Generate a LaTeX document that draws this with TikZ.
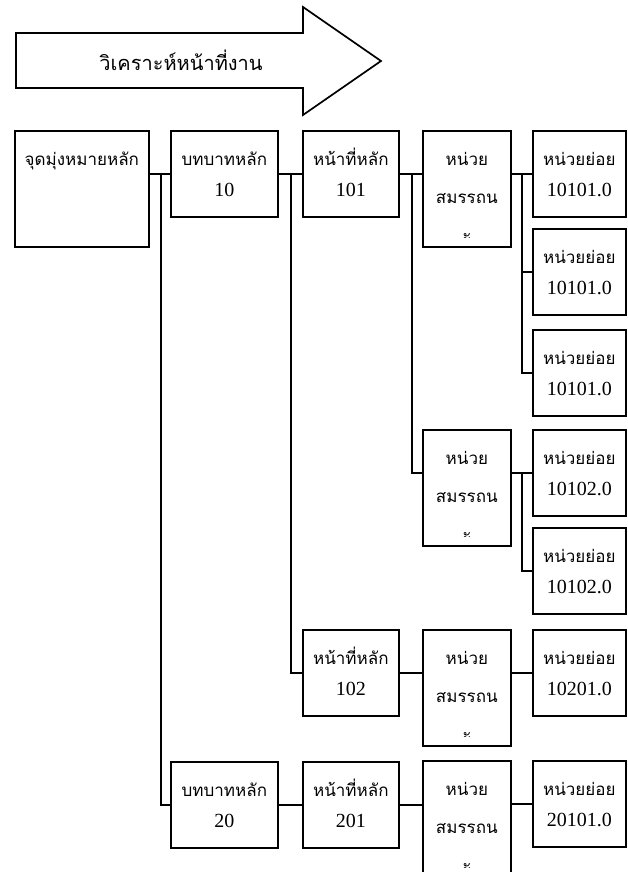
\documentclass[tikz,border=0pt]{standalone}
\usepackage{fontspec}
\setmainfont{Liberation Serif}
\newfontfamily\thaifont[Script=Thai]{Loma}
\usetikzlibrary{calc}
\newcommand{\tw}[1]{{\thaifont\fontsize{17}{31}\selectfont #1}}
\tikzset{box/.style={draw,anchor=north west,inner sep=0pt,align=center,text height=35pt,text depth=51pt,font=\fontsize{20}{31}\selectfont},
tallbox/.style={box,text depth=81pt}}

\begin{document}
\begin{tikzpicture}[x=1pt,y=-1pt,line width=1.7pt]
\clip(0,0)rectangle(627,872);
\draw(16,33)--(303,33)--(303,7)--(381,61)--(303,115)--(303,88)--(16,88)--cycle;
\node(title)at(181,60){\thaifont\fontsize{20}{24}\selectfont วิเคราะห์หน้าที่งาน};

\node[tallbox,text width=134pt](goal)at(14,130){\tw{จุดมุ่งหมายหลัก}};
\node[box,text width=107pt](roleA)at(170,130){\tw{บทบาทหลัก}\\10};
\node[box,text width=107pt](roleB)at(170,761){\tw{บทบาทหลัก}\\20};
\node[box,text width=96pt](dutyA)at(302,130){\tw{หน้าที่หลัก}\\101};
\node[box,text width=96pt](dutyB)at(302,629){\tw{หน้าที่หลัก}\\102};
\node[box,text width=96pt](dutyC)at(302,761){\tw{หน้าที่หลัก}\\201};
\node[tallbox,text width=88pt](compA)at(422,130){\tw{หน่วย}\\[7pt]\tw{สมรรถน}};
\node[tallbox,text width=88pt](compB)at(422,429){\tw{หน่วย}\\[7pt]\tw{สมรรถน}};
\node[tallbox,text width=88pt](compC)at(422,629){\tw{หน่วย}\\[7pt]\tw{สมรรถน}};
\node[tallbox,text width=88pt](compD)at(422,760){\tw{หน่วย}\\[7pt]\tw{สมรรถน}};
\foreach \c in {compA,compB,compC,compD}{
\begin{scope}\clip([yshift=-97]\c.north west)rectangle([yshift=-107]\c.north east);
\node[anchor=base](\c-tail)at([yshift=-111]\c.north){\tw{ะ}};\end{scope}}
\node[box,text width=93pt](subA)at(532,130){\tw{หน่วยย่อย}\\10101.0};
\node[box,text width=93pt](subB)at(532,228){\tw{หน่วยย่อย}\\10101.0};
\node[box,text width=93pt](subC)at(532,329){\tw{หน่วยย่อย}\\10101.0};
\node[box,text width=93pt](subD)at(532,429){\tw{หน่วยย่อย}\\10102.0};
\node[box,text width=93pt](subE)at(532,527){\tw{หน่วยย่อย}\\10102.0};
\node[box,text width=93pt](subF)at(532,629){\tw{หน่วยย่อย}\\10201.0};
\node[box,text width=93pt](subG)at(532,760){\tw{หน่วยย่อย}\\20101.0};

\draw(goal.east|-roleA.west)--(roleA.west);
\draw($(goal.east|-roleA.west)+(11,0)$)|-(roleB.west);
\draw(roleA.east)--(dutyA.west);
\draw($(roleA.east)+(12,0)$)|-(dutyB.west);
\draw(roleB.east)--(dutyC.west);
\draw(dutyA.east)--(compA.west|-dutyA.east);
\draw($(dutyA.east)+(12,0)$)|-(compB.west|-subD.west);
\draw(dutyB.east)--(compC.west|-dutyB.east);
\draw(dutyC.east)--(compD.west|-dutyC.east);
\draw(compA.east|-subA.west)--(subA.west);
\draw($(compA.east|-subA.west)+(10,0)$)|-(subB.west);
\draw($(compA.east|-subA.west)+(10,0)$)|-(subC.west);
\draw(compB.east|-subD.west)--(subD.west);
\draw($(compB.east|-subD.west)+(10,0)$)|-(subE.west);
\draw(compC.east|-subF.west)--(subF.west);
\draw(compD.east|-subG.west)--(subG.west);
\end{tikzpicture}
\end{document}
